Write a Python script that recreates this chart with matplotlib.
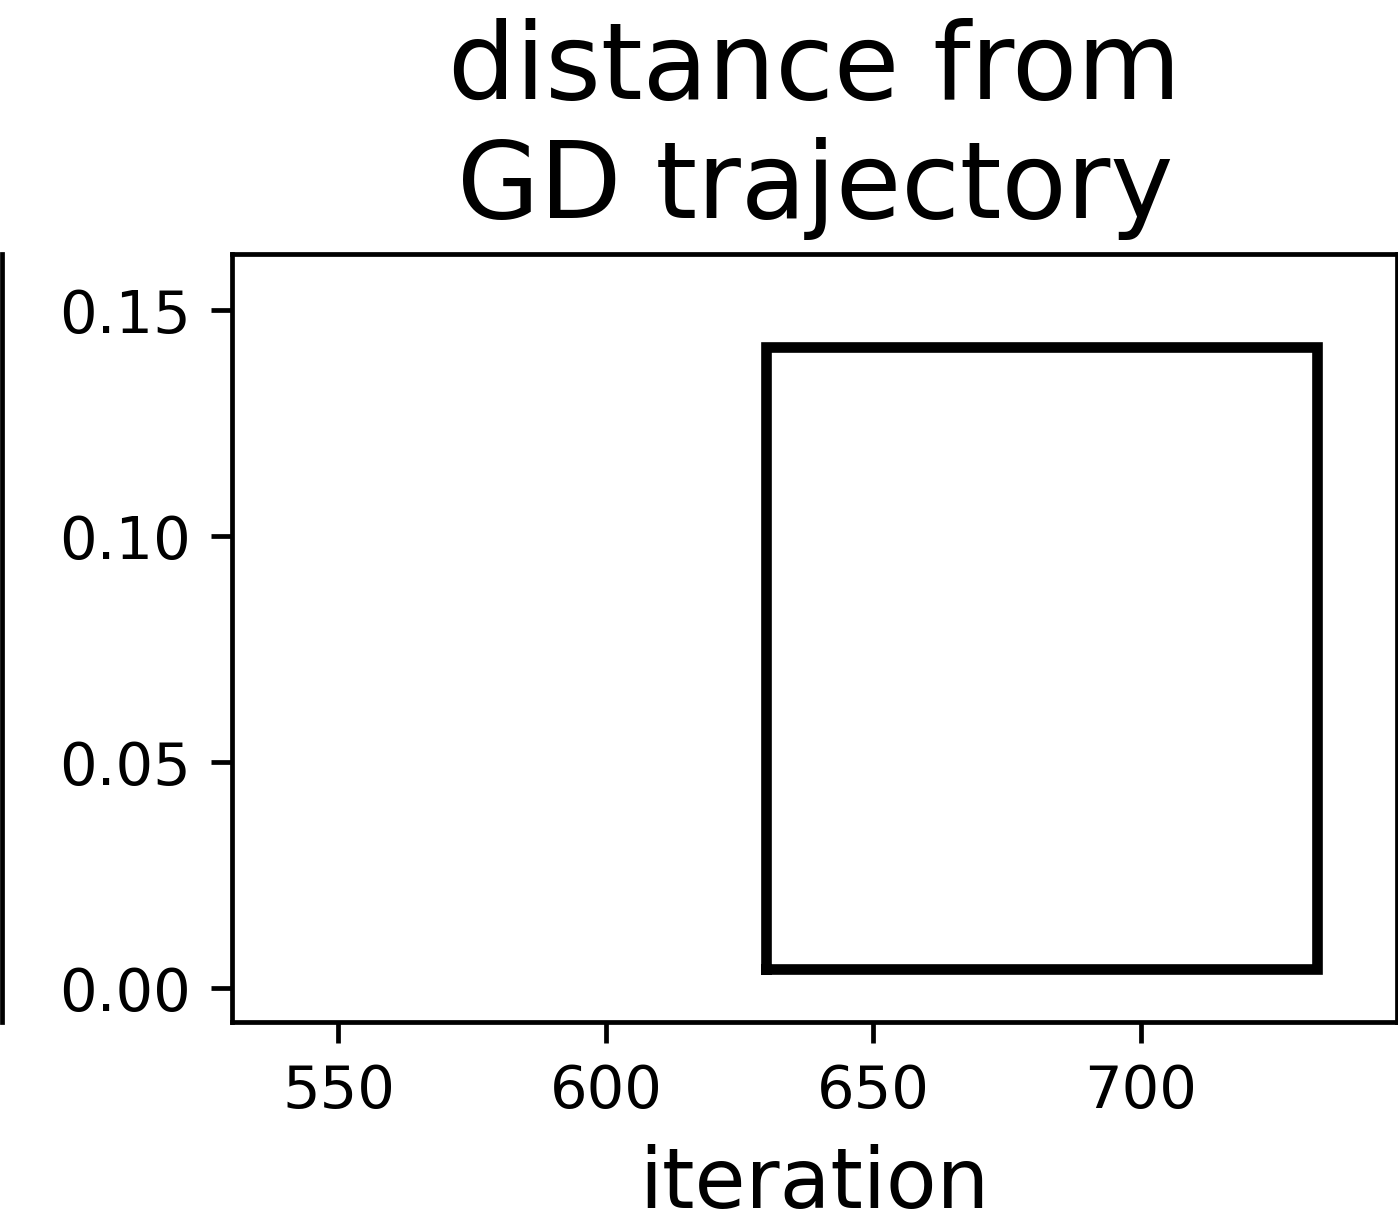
#!/usr/bin/env python3
"""
plot.py - distance from GD trajectory panel
"""

import matplotlib
matplotlib.use('Agg')
import matplotlib.pyplot as plt

# box outline (iteration range, distance range)
box_iters = [630, 733]
box_dist = [0.0042, 0.1419]

x_ticks = [550, 600, 650, 700]
y_ticks = [0.00, 0.05, 0.10, 0.15]
x_range = (530.1, 748.0)
y_range = (-0.0075, 0.1624)

DPI = 426


def main():
    fig = plt.figure(figsize=(1398 / DPI, 1218 / DPI), dpi=DPI)

    # right spine of the neighbouring panel, cut at the figure edge
    ax_left = fig.add_axes([-0.5, 0.1609, 0.5012, 0.6306])
    for side in ['left', 'top', 'bottom']:
        ax_left.spines[side].set_visible(False)
    ax_left.set_xticks([])
    ax_left.set_yticks([])
    ax_left.patch.set_alpha(0)

    ax = fig.add_axes([0.166, 0.1609, 0.8336, 0.6306])

    x0, x1 = box_iters
    y0, y1 = box_dist
    ax.plot([x0, x1, x1, x0, x0], [y0, y0, y1, y1, y0], color='black',
            linewidth=1.8, solid_joinstyle='miter')

    ax.set_xlim(*x_range)
    ax.set_ylim(*y_range)
    ax.set_xticks(x_ticks)
    ax.set_yticks(y_ticks)
    ax.set_yticklabels([f'{v:.2f}' for v in y_ticks])
    ax.tick_params(labelsize=10)

    ax.set_title('distance from\nGD trajectory', fontsize=18)
    ax.set_xlabel('iteration', fontsize=14)

    fig.savefig('out.png', dpi=DPI)


if __name__ == "__main__":
    main()
